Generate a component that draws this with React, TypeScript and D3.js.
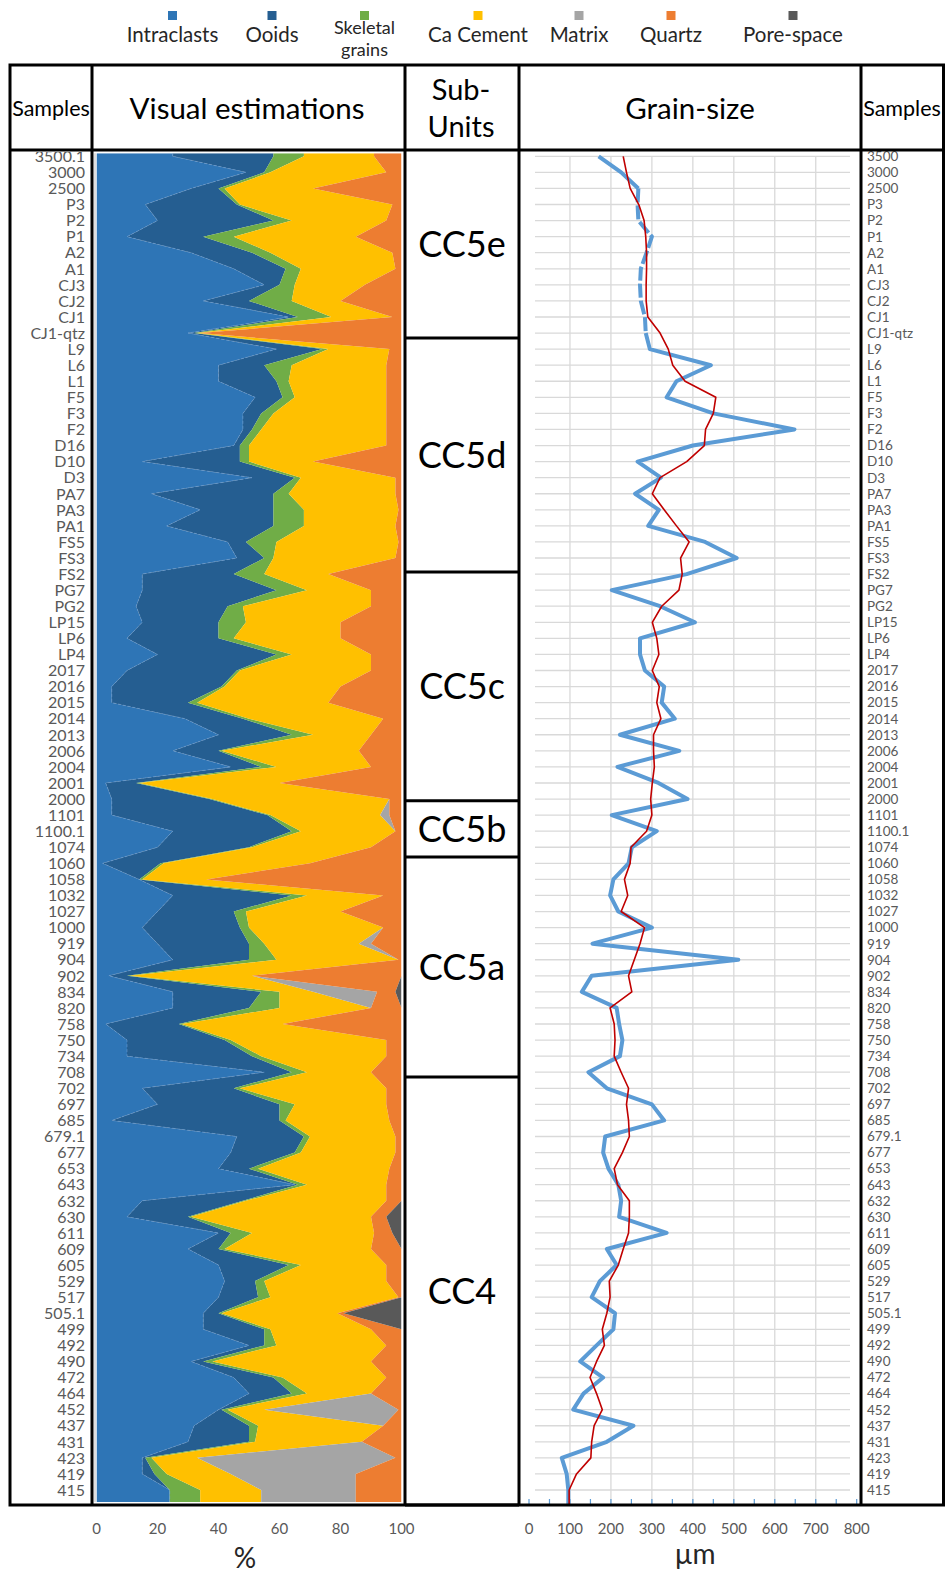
import React from "react";
import * as d3 from "d3";

// Sample names, top (youngest) to bottom
const samples = [
  "3500.1", "3000", "2500", "P3", "P2", "P1", "A2", "A1", "CJ3", "CJ2", "CJ1", "CJ1-qtz",
  "L9", "L6", "L1", "F5", "F3", "F2", "D16", "D10", "D3", "PA7", "PA3", "PA1", "FS5", "FS3",
  "FS2", "PG7", "PG2", "LP15", "LP6", "LP4", "2017", "2016", "2015", "2014", "2013", "2006",
  "2004", "2001", "2000", "1101", "1100.1", "1074", "1060", "1058", "1032", "1027", "1000",
  "919", "904", "902", "834", "820", "758", "750", "734", "708", "702", "697", "685", "679.1",
  "677", "653", "643", "632", "630", "611", "609", "605", "529", "517", "505.1", "499", "492",
  "490", "472", "464", "452", "437", "431", "423", "419", "415",
];

// Visual estimations, % of each component per sample
const intraclasts = [
  25, 49, 31, 16, 20, 10, 31, 45, 55, 35, 63, 30, 59, 40, 40, 52, 48, 48, 45, 15, 51, 18, 34, 23,
  43, 46, 15, 15, 13, 15, 10, 20, 10, 5, 5, 29, 40, 25, 44, 3, 5, 5, 25, 20, 2, 14, 25, 20, 15,
  20, 25, 4, 25, 25, 3, 10, 10, 55, 15, 20, 5, 46, 44, 40, 65, 15, 10, 40, 30, 40, 42, 40, 35,
  35, 50, 31, 45, 50, 40, 32, 30, 15, 15, 24,
];
const ooids = [
  33, 6, 9, 30, 38, 25, 20, 17, 5, 15, 3, 2, 15, 15, 19, 9, 6, 3, 2, 32, 14, 40, 24, 35, 6, 9,
  30, 44, 30, 25, 30, 39, 36, 36, 25, 19, 24, 15, 10, 10, 32, 51, 39, 30, 19, 0, 39, 25, 32, 30,
  25, 6, 29, 25, 24, 32, 41, 9, 30, 40, 55, 22, 21, 10, 1, 33, 20, 4, 10, 23, 10, 13, 5, 20, 5,
  4, 13, 14, 1, 18, 20, 1, 4, 0,
];
const skeletal = [
  10, 2, 2, 1, 6, 10, 6, 5, 5, 14, 11, 1, 2, 9, 4, 4, 4, 3, 3, 3, 2, 5, 10, 10, 10, 3, 10, 10,
  5, 9, 5, 5, 1, 1, 3, 2, 7, 1, 5, 1, 1, 1, 3, 1, 1, 1, 5, 4, 3, 5, 9, 1, 6, 10, 1, 2, 3, 5, 2,
  5, 2, 2, 2, 3, 3, 1, 1, 7, 2, 4, 3, 4, 1, 2, 4, 3, 3, 5, 2, 3, 2, 2, 4, 10,
];
const cement = [
  23, 38, 29, 50, 31, 40, 40, 31, 23, 16, 20, 1, 20, 31, 32, 30, 37, 41, 45, 21, 31, 35, 31, 30,
  40, 40, 21, 21, 42, 31, 35, 26, 43, 38, 43, 44, 19, 45, 31, 46, 58, 36, 31, 39, 48, 21, 25, 31,
  44, 31, 40, 40, 11, 30, 33, 51, 41, 21, 48, 30, 34, 28, 31, 43, 26, 46, 59, 40, 48, 28, 40, 42,
  38, 33, 36, 52, 34, 21, 12, 41, 35, 15, 21, 20,
];
const matrix = [
  0, 0, 0, 0, 0, 0, 0, 0, 0, 0, 0, 0, 0, 0, 0, 0, 0, 0, 0, 0, 0, 0, 0, 0, 0, 0, 0, 0, 0, 0, 0, 0,
  0, 0, 0, 0, 0, 0, 0, 0, 0, 3, 0, 0, 0, 0, 0, 0, 0, 4, 0, 0, 21, 0, 0, 0, 0, 0, 0, 0, 0, 0, 0, 0,
  0, 0, 0, 0, 0, 0, 0, 0, 0, 0, 0, 0, 0, 0, 44, 0, 0, 65, 41, 31,
];
const quartz = [
  9, 5, 29, 3, 5, 15, 3, 2, 12, 20, 3, 66, 4, 5, 5, 5, 5, 5, 5, 29, 2, 2, 1, 2, 1, 2, 24, 10, 10,
  20, 20, 10, 10, 20, 24, 6, 10, 14, 10, 40, 4, 4, 2, 10, 30, 64, 6, 20, 6, 10, 1, 49, 6, 10, 39,
  5, 5, 10, 5, 5, 4, 2, 2, 4, 5, 5, 5, 6, 10, 5, 5, 1, 2, 10, 5, 10, 5, 10, 1, 6, 13, 2, 15, 15,
];
const poreSpace = [
  0, 0, 0, 0, 0, 0, 0, 0, 0, 0, 0, 0, 0, 0, 0, 0, 0, 0, 0, 0, 0, 0, 0, 0, 0, 0, 0, 0, 0, 0, 0, 0,
  0, 0, 0, 0, 0, 0, 0, 0, 0, 0, 0, 0, 0, 0, 0, 0, 0, 0, 0, 0, 2, 0, 0, 0, 0, 0, 0, 0, 0, 0, 0, 0,
  0, 0, 5, 3, 0, 0, 0, 0, 19, 0, 0, 0, 0, 0, 0, 0, 0, 0, 0, 0,
];

// Grain-size (µm) and its running trend
const grainSize = [
  170, 225, 267, 265, 267, 300, 287, 273, 271, 273, 283, 285, 295, 444, 360, 336, 450, 648, 400,
  265, 322, 259, 317, 291, 430, 507, 385, 202, 320, 405, 271, 271, 283, 330, 324, 356, 222, 367,
  216, 316, 387, 202, 312, 251, 243, 206, 198, 218, 300, 155, 511, 153, 129, 214, 220, 228, 222,
  145, 190, 300, 330, 186, 181, 194, 218, 225, 220, 336, 190, 214, 173, 153, 210, 206, 165, 125,
  181, 133, 108, 255, 190, 80, 92, 96,
];
const grainTrend = [
  230, 238, 247, 268, 281, 285, 287, 287, 286, 286, 290, 320, 340, 351, 381, 456, 450, 431, 428,
  385, 320, 301, 330, 360, 391, 370, 374, 366, 324, 301, 312, 317, 301, 318, 312, 322, 304, 304,
  306, 301, 297, 300, 287, 249, 247, 233, 241, 225, 282, 271, 257, 243, 251, 198, 208, 210, 208,
  225, 243, 238, 243, 245, 228, 208, 216, 245, 245, 243, 230, 218, 196, 198, 190, 179, 184, 165,
  149, 165, 179, 159, 153, 151, 116, 98,
];
// Stretch of the grain-size curve drawn dashed (2500 to CJ1-qtz)
const dashedFrom = "2500";
const dashedTo = "CJ1-qtz";

const componentNames = [
  "Intraclasts", "Ooids", "Skeletal grains", "Ca Cement", "Matrix", "Quartz", "Pore-space",
];
const componentValues = [intraclasts, ooids, skeletal, cement, matrix, quartz, poreSpace];
const componentColors = [
  "#2E75B6", "#255E91", "#70AD47", "#FFC000", "#A5A5A5", "#ED7D31", "#595959",
];

const pctTicks = [0, 20, 40, 60, 80, 100];
const umTicks = [0, 100, 200, 300, 400, 500, 600, 700, 800];
const umGrid = [100, 200, 300, 400, 500, 600, 700];

// Sub-unit boxes, bounds given in sample-row units
const subUnits = [
  { name: "CC5e", top: -0.4, bottom: 11.3 },
  { name: "CC5d", top: 11.3, bottom: 25.87 },
  { name: "CC5c", top: 25.87, bottom: 40.1 },
  { name: "CC5b", top: 40.1, bottom: 43.6 },
  { name: "CC5a", top: 43.6, bottom: 57.3 },
  { name: "CC4", top: 57.3, bottom: 83.95 },
];

const FONT = "Lato, 'Open Sans', sans-serif";
const GREY_TEXT = "#595959";

export default function App() {
  const W = 946;
  const H = 1575;
  const n = samples.length;

  // layout
  const tableLeft = 10;
  const tableRight = 943.5;
  const tableTop = 65;
  const headerBottom = 150;
  const tableBottom = 1505;
  const colLines = [92, 405, 519, 861];

  const rowY = d3.scaleLinear().domain([0, n - 1]).range([156.3, 1490]);
  const xPct = d3.scaleLinear().domain([0, 100]).range([96.5, 401.5]);
  const xUm = d3.scaleLinear().domain([0, 800]).range([529, 856.7]);

  const plotTop = 153.3;
  const plotBottom = 1502;

  // stacked composition table, padded to the plot edges
  const rows = samples.map((s, i) => {
    const r: any = { pos: i, sample: s };
    componentNames.forEach((k, j) => (r[k] = componentValues[j][i]));
    return r;
  });
  const padded = [
    { ...rows[0], pos: rowY.invert(plotTop) },
    ...rows,
    { ...rows[n - 1], pos: rowY.invert(plotBottom) },
  ];
  const stacked = d3.stack<any>().keys(componentNames)(padded);
  const area = d3
    .area<any>()
    .y((d) => rowY(d.data.pos))
    .x0((d) => xPct(d[0]))
    .x1((d) => xPct(d[1]));
  const edge = d3
    .line<any>()
    .y((d) => rowY(d.data.pos))
    .x((d) => xPct(d[1]));

  // grain-size curves
  const pts = (vals: number[]) => {
    const p = vals.map((v, i) => ({ v, pos: i }));
    p.push({ v: vals[n - 1], pos: rowY.invert(tableBottom) });
    return p;
  };
  const line = d3
    .line<{ v: number; pos: number }>()
    .x((d) => xUm(d.v))
    .y((d) => rowY(d.pos));
  const gsPts = pts(grainSize);
  const trendPts = pts(grainTrend);
  const dA = samples.indexOf(dashedFrom);
  const dB = samples.indexOf(dashedTo);
  const gsHead = gsPts.slice(0, dA + 1);
  const gsDashed = gsPts.slice(dA, dB + 1);
  const gsTail = gsPts.slice(dB);

  const rightLabel = (s: string) => (s === "3500.1" ? "3500" : s);

  const legendX = [172.5, 272, 364.5, 478, 579, 671, 793];

  return (
    <svg
      width={W}
      height={H}
      viewBox={`0 0 ${W} ${H}`}
      style={{ position: "absolute", left: 0, top: 0, background: "#fff" }}
      fontFamily={FONT}
    >
      <rect x={0} y={0} width={W} height={H} fill="#fff" />
      <defs>
        <clipPath id="clipPct">
          <rect x={xPct(0)} y={plotTop} width={xPct(100) - xPct(0)} height={plotBottom - plotTop} />
        </clipPath>
        <clipPath id="clipUm">
          <rect x={colLines[2]} y={headerBottom} width={colLines[3] - colLines[2]} height={tableBottom - headerBottom} />
        </clipPath>
        <clipPath id="clipLabels">
          <rect x={colLines[0] - 90} y={headerBottom + 2} width={90} height={tableBottom - headerBottom} />
        </clipPath>
      </defs>

      {/* legend */}
      {componentNames.map((name, i) => (
        <g key={name}>
          <rect x={legendX[i] - 4.5} y={11} width={9} height={9} fill={componentColors[i]} />
          {name === "Skeletal grains" ? (
            <g>
              <text x={legendX[i]} y={34} textAnchor="middle" fontSize={18} fill="#262626">Skeletal</text>
              <text x={legendX[i]} y={56} textAnchor="middle" fontSize={18} fill="#262626">grains</text>
            </g>
          ) : (
            <text x={legendX[i]} y={41.5} textAnchor="middle" fontSize={20.5} fill="#262626">
              {name}
            </text>
          )}
        </g>
      ))}

      {/* composition stacked areas */}
      <g clipPath="url(#clipPct)">
        {stacked.map((s, i) => (
          <path key={s.key} d={area(s) || ""} fill={componentColors[i]} />
        ))}
        <path
          d={edge(stacked[0]) || ""}
          fill="none"
          stroke="#6FA0D6"
          strokeWidth={0.8}
          strokeDasharray="3 2"
          opacity={0.7}
        />
      </g>
      <line x1={95} x2={95} y1={plotTop} y2={plotBottom} stroke="#bfbfbf" strokeWidth={1} />

      {/* sample labels, left */}
      <g clipPath="url(#clipLabels)">
        {samples.map((s, i) => (
          <text key={s} x={85} y={rowY(i)} dy="0.36em" textAnchor="end" fontSize={16} fill={GREY_TEXT}>
            {s}
          </text>
        ))}
      </g>

      {/* grain-size grid */}
      <g clipPath="url(#clipUm)">
        {samples.map((s, i) => (
          <line key={s} x1={535} x2={850} y1={rowY(i)} y2={rowY(i)} stroke="#D9D9D9" strokeWidth={1.3} />
        ))}
        {umGrid.map((v) => (
          <line key={v} x1={xUm(v)} x2={xUm(v)} y1={rowY(0)} y2={tableBottom} stroke="#D9D9D9" strokeWidth={1.3} />
        ))}
        {d3.range(0, 801, 50).map((v) => (
          <line key={v} x1={xUm(v)} x2={xUm(v)} y1={1499} y2={tableBottom} stroke="#5B9BD5" strokeWidth={1.2} />
        ))}
        <path d={line(gsHead) || ""} fill="none" stroke="#5B9BD5" strokeWidth={4} strokeLinejoin="round" />
        <path d={line(gsDashed) || ""} fill="none" stroke="#5B9BD5" strokeWidth={4} strokeLinejoin="round" strokeDasharray="14 3" />
        <path d={line(gsTail) || ""} fill="none" stroke="#5B9BD5" strokeWidth={4} strokeLinejoin="round" />
        <path d={line(trendPts) || ""} fill="none" stroke="#C00000" strokeWidth={1.6} strokeLinejoin="round" />
      </g>

      {/* sample labels, right */}
      {samples.map((s, i) => (
        <text key={s} x={867} y={rowY(i)} dy="0.36em" fontSize={13.5} fill={GREY_TEXT}>
          {rightLabel(s)}
        </text>
      ))}

      {/* sub-units */}
      {subUnits.map((u) => {
        const yTop = Math.max(rowY(u.top), headerBottom);
        const yBot = Math.min(rowY(u.bottom), tableBottom);
        return (
          <g key={u.name}>
            <line x1={colLines[1]} x2={colLines[2]} y1={yBot} y2={yBot} stroke="#000" strokeWidth={3} />
            <text x={(colLines[1] + colLines[2]) / 2} y={(yTop + yBot) / 2} dy="0.36em" textAnchor="middle" fontSize={36} fill="#000">
              {u.name}
            </text>
          </g>
        );
      })}

      {/* table frame */}
      <rect x={tableLeft} y={tableTop} width={tableRight - tableLeft} height={tableBottom - tableTop} fill="none" stroke="#000" strokeWidth={3} />
      <line x1={tableLeft} x2={tableRight} y1={headerBottom} y2={headerBottom} stroke="#000" strokeWidth={3} />
      {colLines.map((x) => (
        <line key={x} x1={x} x2={x} y1={tableTop} y2={tableBottom} stroke="#000" strokeWidth={3} />
      ))}

      {/* headers */}
      <text x={51} y={108} dy="0.36em" textAnchor="middle" fontSize={21.5} fill="#000">Samples</text>
      <text x={247} y={108} dy="0.36em" textAnchor="middle" fontSize={29.5} fill="#000">Visual estimations</text>
      <text x={461} y={90} dy="0.36em" textAnchor="middle" fontSize={29} fill="#000">Sub-</text>
      <text x={461} y={127} dy="0.36em" textAnchor="middle" fontSize={29} fill="#000">Units</text>
      <text x={690} y={108} dy="0.36em" textAnchor="middle" fontSize={29.5} fill="#000">Grain-size</text>
      <text x={902} y={108} dy="0.36em" textAnchor="middle" fontSize={21.5} fill="#000">Samples</text>

      {/* bottom axes */}
      {pctTicks.map((t) => (
        <text key={t} x={xPct(t)} y={1529} dy="0.36em" textAnchor="middle" fontSize={15} fill={GREY_TEXT}>
          {t}
        </text>
      ))}
      <text x={245} y={1558} dy="0.36em" textAnchor="middle" fontSize={28} fill="#262626">%</text>
      {umTicks.map((t) => (
        <text key={t} x={xUm(t)} y={1529} dy="0.36em" textAnchor="middle" fontSize={15} fill={GREY_TEXT}>
          {t}
        </text>
      ))}
      <text x={695} y={1554} dy="0.36em" textAnchor="middle" fontSize={28} fill="#262626">µm</text>
    </svg>
  );
}
